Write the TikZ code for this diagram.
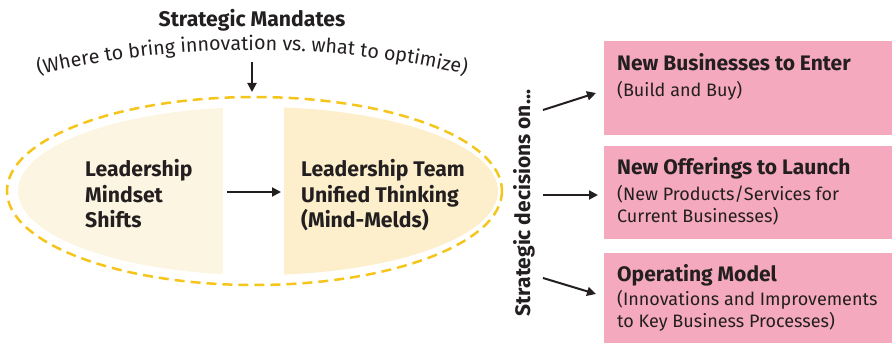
\documentclass[tikz,border=0pt]{standalone}
\usepackage{fontspec}
\setmainfont{Fira Sans}
\usetikzlibrary{arrows.meta,decorations.text}
\definecolor{txt}{HTML}{231F20}
\definecolor{gold}{HTML}{F6C51B}
\definecolor{lightfill}{HTML}{FCF5E1}
\definecolor{darkfill}{HTML}{FDEFCC}
\definecolor{pinkbox}{HTML}{F5A9BE}
\tikzset{
  arr/.style={line width=2pt, txt, -{Triangle[length=9pt,width=9pt]}},
  boxstyle/.style={fill=pinkbox, draw=none, minimum width=288pt, anchor=north west, inner sep=0pt},
  btitle/.style={anchor=base west, inner sep=0pt, text=txt, font=\fontsize{21}{24}\selectfont\bfseries},
  bsub/.style={anchor=base west, inner sep=0pt, text=txt, align=left, font=\fontsize{18}{22.5}\selectfont},
  ltext/.style={anchor=base west, inner sep=0pt, text=txt, align=left, font=\fontsize{21.2}{25.5}\selectfont\bfseries},
}
\begin{document}
\begin{tikzpicture}[x=1pt,y=-1pt]
\useasboundingbox (0,0) rectangle (892,344);
% fills
\begin{scope}
\clip (258,191) ellipse [x radius=240, y radius=84];
\fill[lightfill] (0,100) rectangle (223,290);
\fill[darkfill] (284,100) rectangle (500,290);
\end{scope}
\draw[gold, line width=2.5pt, dash pattern=on 10pt off 6pt] (254.5,191) ellipse [x radius=247.5, y radius=94];
% top texts
\node[anchor=base, inner sep=0pt, text=txt, font=\fontsize{21.2}{24}\selectfont\bfseries] (mand) at (252,27) {Strategic Mandates};
\path[decorate, decoration={text along path, text align=center,
  text={|\fontsize{19.7}{22}\selectfont\color{txt}|(Where to bring innovation vs. what to optimize)}}]
  (252,987) ++(-106:937) arc (-106:-74:937);
\coordinate (ta) at (252,62);
\coordinate (tb) at (252,92);
\draw[arr] (ta) -- (tb);
% ellipse texts
\node[ltext] (lm) at (85,228) {Leadership\\Mindset\\Shifts};
\node[ltext] (lt) at (301,228) {Leadership Team\\Unified Thinking\\(Mind-Melds)};
\coordinate (ma) at (227,192);
\coordinate (mb) at (281,192);
\draw[arr] (ma) -- (mb);
% vertical text
\node[rotate=90, anchor=base, inner sep=0pt, text=txt, font=\fontsize{21}{24}\selectfont\bfseries] (sd) at (530,203) {Strategic decisions on...};
% boxes
\node[boxstyle, minimum height=94pt] (b1) at (604,41) {};
\node[boxstyle, minimum height=93pt] (b2) at (604,146) {};
\node[boxstyle, minimum height=90pt] (b3) at (604,253) {};
\node[btitle] (t1) at (617,71) {New Businesses to Enter};
\node[bsub] (s1) at (617,97) {(Build and Buy)};
\node[btitle] (t2) at (617,175) {New Offerings to Launch};
\node[bsub] (s2) at (617,223) {(New Products/Services for\\Current Businesses)};
\node[btitle] (t3) at (617,282) {Operating Model};
\node[bsub] (s3) at (617,328) {(Innovations and Improvements\\to Key Business Processes)};
% arrows to boxes
\coordinate (a1s) at (543,110);
\coordinate (a1e) at (596,93);
\coordinate (a2s) at (543,195);
\coordinate (a2e) at (598,195);
\coordinate (a3s) at (543,278);
\coordinate (a3e) at (596,294);
\draw[arr] (a1s) -- (a1e);
\draw[arr] (a2s) -- (a2e);
\draw[arr] (a3s) -- (a3e);
\end{tikzpicture}
\end{document}
